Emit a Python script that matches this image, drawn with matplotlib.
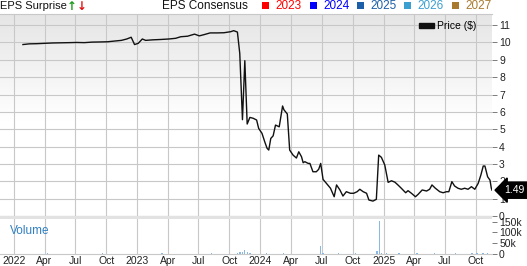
import matplotlib
matplotlib.use("Agg")
import matplotlib.pyplot as plt
import numpy as np
import pandas as pd
from matplotlib.patches import Patch, Rectangle
from matplotlib.ticker import FuncFormatter

# price ($)
price_dates = [
    "2022-01-27", "2022-02-15", "2022-03-10", "2022-04-01", "2022-04-25", "2022-05-20",
    "2022-06-15", "2022-07-05", "2022-07-28", "2022-08-20", "2022-09-15", "2022-10-05",
    "2022-10-25", "2022-11-15", "2022-12-01", "2022-12-14", "2022-12-24", "2023-01-04",
    "2023-01-16", "2023-01-26", "2023-02-15", "2023-03-10", "2023-04-05", "2023-04-25",
    "2023-05-10", "2023-05-30", "2023-06-20", "2023-07-04", "2023-07-18", "2023-08-05",
    "2023-08-25", "2023-09-15", "2023-10-05", "2023-10-14", "2023-10-25", "2023-11-01",
    "2023-11-09", "2023-11-16", "2023-11-23", "2023-12-01", "2023-12-11", "2023-12-21",
    "2023-12-27", "2024-01-06", "2024-01-14", "2024-01-21", "2024-01-26", "2024-02-01",
    "2024-02-08", "2024-02-15", "2024-02-26", "2024-03-07", "2024-03-11", "2024-03-21",
    "2024-03-28", "2024-04-07", "2024-04-17", "2024-04-24", "2024-05-02", "2024-05-07",
    "2024-05-12", "2024-05-22", "2024-05-27", "2024-06-05", "2024-06-15", "2024-06-22",
    "2024-06-28", "2024-07-05", "2024-07-15", "2024-07-27", "2024-08-07", "2024-08-14",
    "2024-08-24", "2024-09-02", "2024-09-12", "2024-09-24", "2024-10-04", "2024-10-14",
    "2024-10-22", "2024-11-01", "2024-11-11", "2024-11-18", "2024-11-30", "2024-12-10",
    "2024-12-17", "2024-12-25", "2025-01-04", "2025-01-14", "2025-01-24", "2025-02-03",
    "2025-02-12", "2025-02-22", "2025-03-07", "2025-03-14", "2025-03-24", "2025-04-05",
    "2025-04-13", "2025-04-25", "2025-05-08", "2025-05-17", "2025-05-24", "2025-06-03",
    "2025-06-16", "2025-06-26", "2025-07-06", "2025-07-13", "2025-07-22", "2025-07-30",
    "2025-08-09", "2025-08-19", "2025-08-29", "2025-09-08", "2025-09-18", "2025-09-28",
    "2025-10-08", "2025-10-16", "2025-10-23", "2025-10-28", "2025-11-05", "2025-11-12",
    "2025-11-16", "2025-11-18",
]
price_values = [
    9.88, 9.92, 9.93, 9.95, 9.97, 9.98,
    9.99, 10.00, 9.99, 10.02, 10.03, 10.04,
    10.08, 10.12, 10.20, 10.30, 9.88, 9.95,
    10.20, 10.12, 10.15, 10.17, 10.20, 10.24,
    10.33, 10.36, 10.48, 10.38, 10.45, 10.55,
    10.55, 10.56, 10.62, 10.68, 10.60, 9.37,
    5.55, 8.95, 5.30, 5.68, 5.63, 5.53,
    5.05, 4.76, 4.28, 3.90, 3.80, 4.47,
    4.62, 5.24, 5.14, 6.34, 6.12, 5.88,
    3.80, 3.51, 3.34, 3.70, 3.42, 3.07,
    3.13, 3.03, 3.03, 2.55, 2.55, 2.69,
    3.03, 2.11, 1.88, 1.60, 1.11, 1.79,
    1.50, 1.15, 1.40, 1.31, 1.31, 1.40,
    1.54, 1.40, 1.31, 0.92, 0.86, 0.96,
    3.51, 3.38, 2.94, 1.94, 2.03, 1.95,
    1.79, 1.60, 1.34, 1.46, 1.31, 1.11,
    1.25, 1.50, 1.44, 1.54, 1.79, 1.60,
    1.40, 1.34, 1.40, 1.40, 1.98, 1.73,
    1.60, 1.54, 1.60, 1.54, 1.69, 1.54,
    1.88, 2.36, 2.88, 2.88, 2.26, 2.07,
    1.60, 1.49,
]

volume_dates = [
    "2022-04-10", "2022-09-20", "2023-03-15", "2023-08-10", "2023-10-26", "2023-11-02",
    "2023-11-09", "2023-11-16", "2023-11-23", "2023-12-01", "2024-01-20", "2024-03-10",
    "2024-06-27", "2024-07-05", "2024-08-20", "2024-10-10", "2024-12-12", "2024-12-20",
    "2024-12-26", "2025-01-10", "2025-02-15", "2025-04-10", "2025-06-01", "2025-08-01",
    "2025-09-20", "2025-10-05", "2025-10-22", "2025-11-05",
]
volume_values = [
    1500, 1200, 1000, 1200, 2500, 6000,
    8000, 16000, 5000, 3000, 2000, 1500,
    37000, 2500, 3000, 1500, 12000, 155000,
    4000, 2500, 2000, 1500, 2000, 2500,
    3000, 3500, 3000, 2500,
]

legend_years = ["2023", "2024", "2025", "2026", "2027"]
legend_colors = ["#ff0000", "#0000ff", "#1c5ea8", "#3b9fd0", "#a97a2e"]

tick_dates = pd.date_range("2022-01-01", "2025-10-01", freq="QS")
tick_labels = ["2022", "Apr", "Jul", "Oct", "2023", "Apr", "Jul", "Oct",
               "2024", "Apr", "Jul", "Oct", "2025", "Apr", "Jul", "Oct"]

plt.rcParams["font.family"] = ["Liberation Sans", "DejaVu Sans"]

W, H = 527, 266
fig = plt.figure(figsize=(W / 100, H / 100), dpi=100)
right = 492 / W
ax = fig.add_axes([0, 1 - 216 / H, right, 202 / H])
axv = fig.add_axes([0, 1 - 253.5 / H, right, 34.5 / H])

x_left, x_right = pd.Timestamp("2021-11-20"), pd.Timestamp("2025-11-18")
pdates = pd.to_datetime(price_dates)
vdates = pd.to_datetime(volume_dates)
ytop = 11.64
grid_c = "#c8c8c8"

# background gradient, gray at top fading to white
rows = np.linspace(0, ytop, 200)
t = np.clip((rows - 5.5) / (ytop - 5.5), 0, 1)
shade = 1 - t * 0.1
grad = np.stack([shade, shade, shade], axis=-1).reshape(200, 1, 3)
ax.imshow(grad, extent=[x_left, x_right, 0, ytop], aspect="auto",
          origin="lower", zorder=0)

ax.plot(pdates, price_values, color="#111111", lw=1.0, zorder=3, label="Price ($)")
ax.set_xlim(x_left, x_right)
ax.set_ylim(0, ytop)
ax.set_yticks(range(0, 12))
ax.set_xticks(tick_dates)
ax.set_axisbelow(True)
ax.grid(True, color=grid_c, lw=0.8)
ax.yaxis.tick_right()
ax.tick_params(axis="y", length=3.6, width=0.6, color="#666666", pad=1.5,
               labelsize=7.5, labelcolor="#222222")
ax.tick_params(axis="x", length=0, labelbottom=False)
for s in ["left", "right"]:
    ax.spines[s].set_visible(False)
for s in ["top", "bottom"]:
    ax.spines[s].set_color(grid_c)
    ax.spines[s].set_linewidth(0.8)

ax.legend(handles=[Patch(color="#111111", label="Price ($)")], loc="upper right",
          bbox_to_anchor=(0.985, 1.005), frameon=False, fontsize=7.5,
          handlelength=1.4, handleheight=0.45, handletextpad=0.3, borderpad=0.3)

ax.annotate(f"{price_values[-1]:.2f}", xy=(1, price_values[-1]),
            xycoords=("axes fraction", "data"), xytext=(16, 0),
            textcoords="offset points", ha="center", va="center",
            color="white", fontsize=7.5, zorder=10, annotation_clip=False,
            bbox=dict(boxstyle="larrow,pad=0.3", fc="black", ec="black"))

# volume panel
axv.bar(vdates, volume_values, width=4, color="#8ab8e2", zorder=3)
axv.set_xlim(x_left, x_right)
axv.set_ylim(0, 163000)
axv.set_yticks([0, 50000, 100000, 150000])
axv.yaxis.set_major_formatter(FuncFormatter(lambda v, p: "0" if v == 0 else f"{int(v / 1000)}k"))
axv.set_xticks(tick_dates)
axv.set_xticklabels(tick_labels)
axv.set_axisbelow(True)
axv.grid(True, axis="x", color=grid_c, lw=0.8)
axv.yaxis.tick_right()
axv.tick_params(axis="y", length=3.6, width=0.6, color="#666666", pad=1.5,
                labelsize=7.5, labelcolor="#222222")
axv.tick_params(axis="x", length=0, pad=2, labelsize=7.5, labelcolor="#222222")
for s in ["left", "right", "top"]:
    axv.spines[s].set_visible(False)
axv.spines["bottom"].set_color(grid_c)
axv.spines["bottom"].set_linewidth(0.8)
axv.text(0.02, 0.66, "Volume", transform=axv.transAxes, color="#2f7fc1",
         fontsize=8.5, va="center")

# band between panels
fig.add_artist(Rectangle((0, 1 - 219 / H), right, 3 / H, transform=fig.transFigure,
                         fc="#e2e2e2", ec="none"))

# header
base_y = 1 - 9 / H
fig.text(0, base_y, "EPS Surprise", fontsize=8, va="baseline", color="#111111")
fig.text(67 / W, 1 - 6.5 / H, "\u2191", fontsize=8.5, va="center", color="#1a9a1a",
         fontweight="bold", family="DejaVu Sans")
fig.text(77 / W, 1 - 6.5 / H, "\u2193", fontsize=8.5, va="center", color="#e01010",
         fontweight="bold", family="DejaVu Sans")
fig.text(162 / W, base_y, "EPS Consensus", fontsize=8.5, va="baseline", color="#111111")

sq_x = [262, 310, 357, 404, 452]
for xp, yr, col in zip(sq_x, legend_years, legend_colors):
    fig.add_artist(Rectangle((xp / W, 1 - 8.5 / H), 6.5 / W, 6.5 / H,
                             transform=fig.transFigure, fc=col, ec="none"))
    fig.text((xp + 13) / W, base_y, yr, fontsize=8.5, va="baseline", color=col)

fig.savefig("out.png", dpi=100)
